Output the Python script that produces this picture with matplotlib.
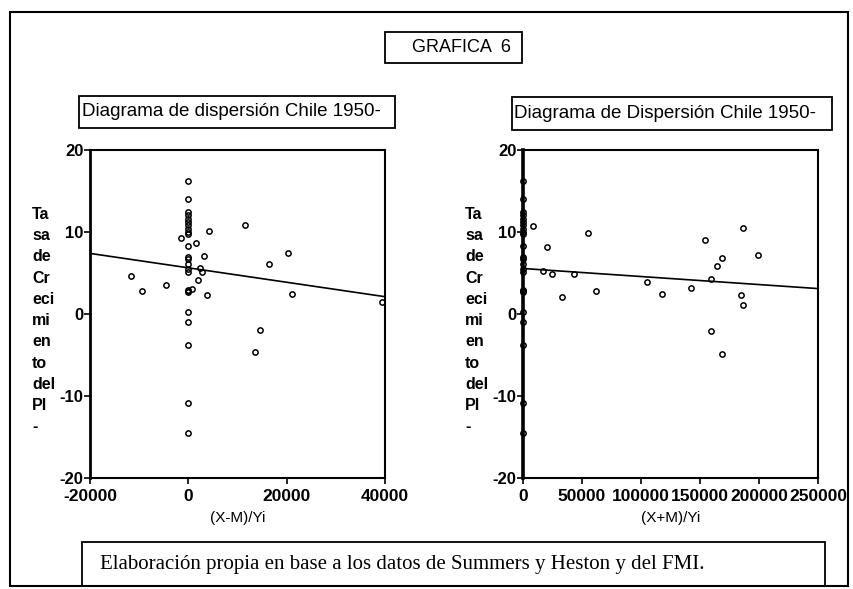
"""GRAFICA 6 - diagramas de dispersión Chile 1950-"""

import numpy as np
import matplotlib.pyplot as plt
from matplotlib.patches import Rectangle

plt.rcParams['font.family'] = ['Liberation Sans', 'DejaVu Sans']
plt.rcParams['axes.unicode_minus'] = False

# Years with no trade value sit on x = 0 (same growth values in both panels)
zero_growth = [16.2, 14.0, 12.5, 12.1, 11.6, 11.2, 10.8, 10.4, 10.0, 9.8, 8.3, 7.0,
               6.7, 6.1, 5.5, 5.1, 2.9, 2.8, 2.7, 0.2, -1.0, -3.8, -10.9, -14.5]

# Left panel: (X-M)/Yi vs growth
xm_x = [-11750, -9500, -4580, -1500, 800, 1640, 1990, 2320, 2800, 3140, 3830, 4240,
        11450, 13600, 14620, 16500, 20240, 21060, 39400]
xm_y = [4.6, 2.8, 3.5, 9.3, 3.0, 8.6, 4.2, 5.6, 5.1, 7.1, 2.3, 10.1,
        10.8, -4.6, -1.9, 6.1, 7.4, 2.4, 1.5]
xm_fit = [5.63, -8.8e-5]  # intercept, slope

# Right panel: (X+M)/Yi vs growth
xp_x = [8200, 16700, 20000, 24300, 32800, 43200, 55400, 61600, 104800, 118100, 142100,
        154200, 159100, 159300, 164700, 168900, 168900, 184500, 186700, 186700, 199400]
xp_y = [10.7, 5.3, 8.2, 4.9, 2.1, 4.9, 9.9, 2.8, 3.9, 2.4, 3.2,
        9.0, 4.3, -2.1, 5.8, 6.8, -4.9, 2.3, 10.5, 1.1, 7.2]
xp_fit = [5.55, -9.8e-6]

ylabel = "Ta\nsa\nde\nCr\neci\nmi\nen\nto\ndel\nPI\n-"

W, H = 854, 589
fig = plt.figure(figsize=(W / 100, H / 100), dpi=100)


def fx(px):
    return px / W


def fy(py):
    return 1 - py / H


def box(x0, y0, x1, y1, lw=1.3):
    fig.patches.append(Rectangle((fx(x0), fy(y1)), fx(x1) - fx(x0), fy(y0) - fy(y1),
                                 transform=fig.transFigure, fill=False,
                                 edgecolor='black', linewidth=lw))


def panel(left_px, x, y, fit, xlim, xticks, xlabel, spine_lw):
    ax = fig.add_axes([fx(left_px), fy(478), fx(295), (478 - 150) / H])
    ax.plot(x, y, 'o', ms=3.8, mfc='none', mec='black', mew=1.1, clip_on=False)
    ax.plot(np.zeros(len(zero_growth)), zero_growth, 'o', ms=3.8, mfc='none',
            mec='black', mew=1.1, clip_on=False)
    xs = np.array(xlim, dtype=float)
    ax.plot(xs, fit[0] + fit[1] * xs, color='black', lw=1.2)
    ax.set_xlim(xlim)
    ax.set_ylim(-20, 20)
    ax.set_xticks(xticks)
    ax.set_yticks([-20, -10, 0, 10, 20])
    ax.tick_params(direction='out', length=4, width=1.2)
    ax.tick_params(axis='x', labelsize=12.5, pad=4)
    ax.tick_params(axis='y', labelsize=12, pad=0.5)
    for lab in ax.get_xticklabels() + ax.get_yticklabels():
        lab.set_fontweight('bold')
    ax.set_xlabel(xlabel, fontsize=11, labelpad=5)
    for s in ax.spines.values():
        s.set_linewidth(1.5)
    ax.spines['left'].set_linewidth(spine_lw)
    ax.spines['left'].set_zorder(3)
    fig.text(fx(left_px - 58), fy(207), ylabel, ha='left', va='top', fontsize=11.5,
             fontweight='bold', linespacing=1.52)
    return ax


panel(90, xm_x, xm_y, xm_fit, (-20000, 40000), [-20000, 0, 20000, 40000], "(X-M)/Yi", 2)
panel(523, xp_x, xp_y, xp_fit, (0, 250000),
      [0, 50000, 100000, 150000, 200000, 250000], "(X+M)/Yi", 2.6)

# Frames and captions
box(10, 12, 848, 586, lw=1.5)
box(385, 32, 522, 63)
fig.text(fx(461), fy(47), "GRAFICA  6", ha='center', va='center', fontsize=13)
box(79, 96, 395, 128)
fig.text(fx(82), fy(112), "Diagrama de dispersión Chile 1950-", ha='left', va='center',
         fontsize=13.5)
box(512, 97, 832, 130)
fig.text(fx(514), fy(113), "Diagrama de Dispersión Chile 1950-", ha='left', va='center',
         fontsize=13.5)
box(82, 542, 825, 586)
fig.text(fx(100), fy(565), "Elaboración propia en base a los datos de Summers y Heston y del FMI.",
         ha='left', va='center', fontsize=15, family=['Liberation Serif', 'DejaVu Serif'])

fig.savefig('out.png', dpi=100)
